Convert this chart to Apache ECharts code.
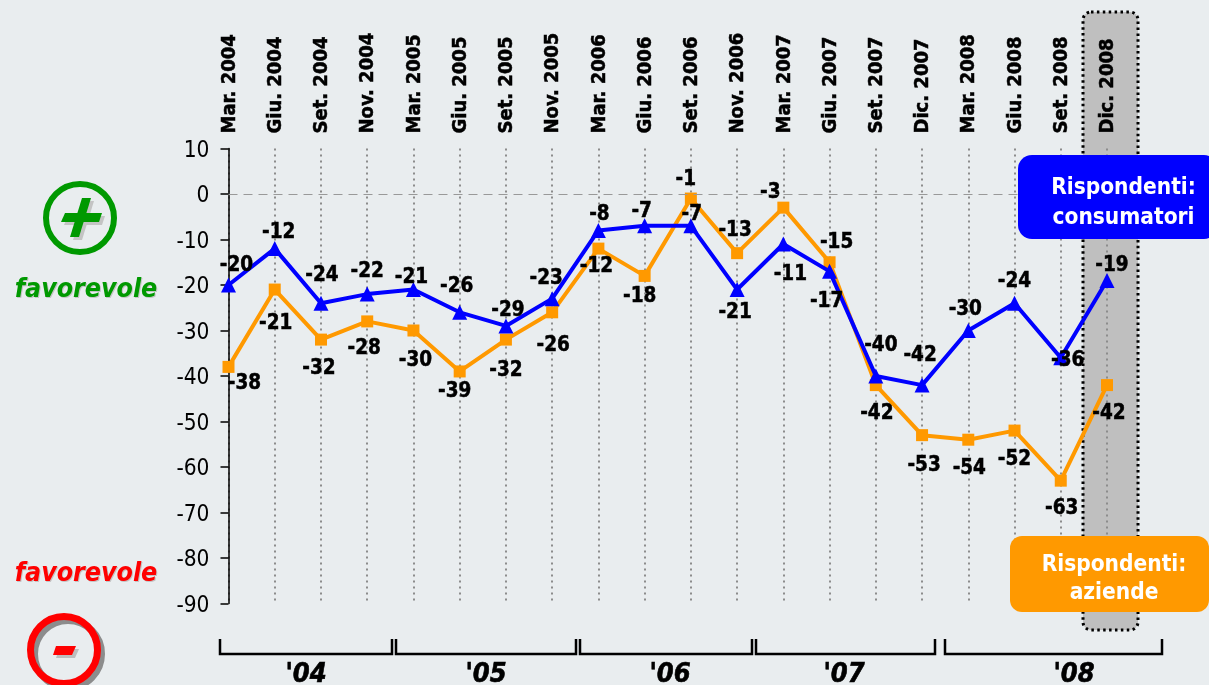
<!DOCTYPE html>
<html><head><meta charset="utf-8">
<style>html,body{margin:0;padding:0;background:#e9edef;overflow:hidden}#c{width:1209px;height:685px}</style>
<script src="https://cdn.jsdelivr.net/npm/echarts@6/dist/echarts.min.js"></script>
</head><body><div id="c"></div>
<script>
const categories = ['Mar. 2004','Giu. 2004','Set. 2004','Nov. 2004','Mar. 2005','Giu. 2005','Set. 2005','Nov. 2005','Mar. 2006','Giu. 2006','Set. 2006','Nov. 2006','Mar. 2007','Giu. 2007','Set. 2007','Dic. 2007','Mar. 2008','Giu. 2008','Set. 2008','Dic. 2008'];
const consumatori = [-20,-12,-24,-22,-21,-26,-29,-23,-8,-7,-7,-21,-11,-17,-40,-42,-30,-24,-36,-19];
const aziende = [-38,-21,-32,-28,-30,-39,-32,-26,-12,-18,-1,-13,-3,-15,-42,-53,-54,-52,-63,-42];
const consumatoriLabelOffsets = [[8,-21],[4,-17],[1,-29],[0,-24],[-2,-13],[-3,-27],[2,-17],[-6,-21],[1,-17],[-3,-16],[1,-13],[-2,22],[7,29],[-3,29],[5,-32],[-2,-31],[-3,-22],[0,-23],[7,1],[5,-16]];
const aziendeLabelOffsets = [[16,15],[1,33],[-2,28],[-3,26],[2,29],[-5,19],[0,30],[1,32],[-2,17],[-5,19],[-5,-20],[-2,-24],[-13,-16],[7,-21],[1,27],[2,29],[1,27],[0,28],[1,27],[2,27]];
const yearBrackets = [[220,392,"'04",306],[396,576,"'05",486],[580,752,"'06",670],[756,935,"'07",844],[945,1162,"'08",1074]];

const FONT = 'Tahoma, "DejaVu Sans Condensed", "DejaVu Sans", sans-serif';
const labelFont = {fontFamily: FONT, fontWeight: 'bold', fontSize: 20.5, color: '#000', textBorderColor: '#000', textBorderWidth: 0.5};

function points(values, offsets) {
  return values.map((v, i) => ({value: v, label: {offset: [offsets[i][0], offsets[i][1] + 1.5]}}));
}
function poly(pts, fill, z) {
  return {type: 'polygon', shape: {points: pts}, style: {fill}, z, silent: true};
}
function shift(pts, dx, dy) { return pts.map(p => [p[0] + dx, p[1] + dy]); }

const plusH = [[65,213],[102,213],[99,222],[61,222]];
const plusV = [[82,198],[91,198],[79,237],[70,237]];
const minusBar = [[56,646],[76,646],[72,655],[53,655]];
const favFont = 'italic bold 26.5px ' + FONT;

const graphic = [
  {type:'rect', z:-1, silent:true, shape:{x:1083,y:12,width:55,height:618,r:8}, style:{fill:'#bfbfbf',stroke:'#000',lineWidth:3,lineDash:[2.5,3.4]}},
  // plus icon
  poly(shift(plusH,3,3),'#c4c4c4',5), poly(shift(plusV,3,3),'#c4c4c4',5),
  {type:'circle', z:6, silent:true, shape:{cx:80,cy:218,r:34}, style:{fill:'none',stroke:'#009900',lineWidth:6}},
  poly(plusH,'#009900',6), poly(plusV,'#009900',6),
  // minus icon
  {type:'circle', z:5, silent:true, shape:{cx:68,cy:654,r:33.5}, style:{fill:'none',stroke:'#8c8c8c',lineWidth:7}},
  {type:'circle', z:6, silent:true, shape:{cx:64,cy:650,r:33.5}, style:{fill:'none',stroke:'#ff0000',lineWidth:7}},
  poly(shift(minusBar,3,3),'#bdbdbd',5), poly(minusBar,'#ff0000',6),
  // favorevole
  {type:'text', z:5, silent:true, x:87, y:291, style:{text:'favorevole',fill:'#c4c4c4',font:favFont,textAlign:'center',textVerticalAlign:'middle'}},
  {type:'text', z:6, silent:true, x:86, y:290, style:{text:'favorevole',fill:'#009900',font:favFont,textAlign:'center',textVerticalAlign:'middle'}},
  {type:'text', z:5, silent:true, x:87, y:575, style:{text:'favorevole',fill:'#c4c4c4',font:favFont,textAlign:'center',textVerticalAlign:'middle'}},
  {type:'text', z:6, silent:true, x:86, y:574, style:{text:'favorevole',fill:'#ff0000',font:favFont,textAlign:'center',textVerticalAlign:'middle'}},
  // legend boxes
  {type:'rect', z:100, silent:true, shape:{x:1018,y:155,width:200,height:84,r:14}, style:{fill:'#0000ff'}},
  {type:'text', z:101, silent:true, x:1123.5, y:203, style:{text:'Rispondenti:\nconsumatori',fill:'#fff',font:'bold 22.5px '+FONT,textAlign:'center',textVerticalAlign:'middle',lineHeight:30}},
  {type:'rect', z:100, silent:true, shape:{x:1010,y:536,width:199,height:76,r:12}, style:{fill:'#ff9900'}},
  {type:'text', z:101, silent:true, x:1114, y:579, style:{text:'Rispondenti:\naziende',fill:'#fff',font:'bold 22.5px '+FONT,textAlign:'center',textVerticalAlign:'middle',lineHeight:28}}
];
yearBrackets.forEach(b => {
  graphic.push({type:'polyline', silent:true, z:5, shape:{points:[[b[0],639],[b[0],654],[b[1],654],[b[1],639]]}, style:{fill:'none',stroke:'#000',lineWidth:2.5}});
  graphic.push({type:'text', silent:true, z:5, x:b[3], y:675, style:{text:b[2],fill:'#000',font:'italic bold 27px '+FONT,textAlign:'center',textVerticalAlign:'middle',stroke:'#000',lineWidth:0.6}});
});

const chart = echarts.init(document.getElementById('c'), null, {renderer:'canvas', width:1209, height:685});
chart.setOption({
  backgroundColor: '#e9edef',
  animation: false,
  grid: {left:228.5, top:148.5, width:878.5, height:455},
  xAxis: {
    type:'category', data:categories, position:'top', boundaryGap:false,
    axisLine:{show:false, onZero:false}, axisTick:{show:false},
    axisLabel:{rotate:-90, interval:0, margin:15, formatter:'{a|{value}}',
      rich:{a:{padding:[2,0,0,0], fontFamily:FONT, fontWeight:'bold', fontSize:20, color:'#000', textBorderColor:'#000', textBorderWidth:0.5}}},
    splitLine:{show:true, interval:0, lineStyle:{color:'#8c8c8c', type:[2,4], width:2}}
  },
  yAxis: {
    type:'value', min:-90, max:10, interval:10,
    axisLine:{show:true, lineStyle:{color:'#000', width:1.5}},
    axisTick:{show:true, length:8, lineStyle:{color:'#000', width:1.5}},
    axisLabel:{margin:19, formatter:'{a|{value}}', rich:{a:{padding:[5,0,0,0], fontFamily:FONT, fontSize:22.5, color:'#000'}}},
    splitLine:{show:false}
  },
  series: [
    {name:'Rispondenti: aziende', type:'line', data:points(aziende, aziendeLabelOffsets), symbol:'rect', symbolSize:12, z:3,
     lineStyle:{color:'#ff9900', width:4}, itemStyle:{color:'#ff9900'},
     label:{show:true, position:'inside', ...labelFont},
     markLine:{silent:true, symbol:'none', label:{show:false}, data:[{yAxis:0}], lineStyle:{color:'#999', type:[9,6], width:1}}},
    {name:'Rispondenti: consumatori', type:'line', data:points(consumatori, consumatoriLabelOffsets), symbol:'triangle', symbolSize:15, z:4,
     lineStyle:{color:'#0000ff', width:4}, itemStyle:{color:'#0000ff'},
     label:{show:true, position:'inside', ...labelFont}}
  ],
  graphic: {elements: graphic}
});
</script></body></html>
